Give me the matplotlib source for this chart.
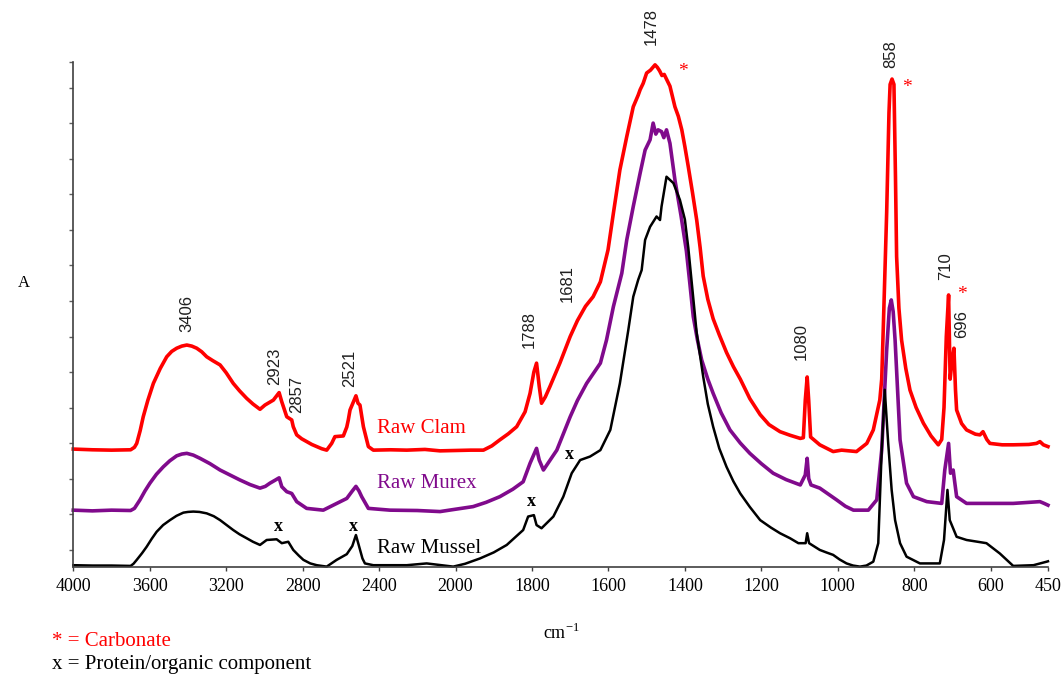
import numpy as np
import matplotlib.pyplot as plt

# FTIR absorbance spectra of raw shells (arbitrary offset units)
clam_wn = [4000, 3900, 3800, 3700, 3680, 3668, 3650, 3634, 3610, 3581, 3545, 3511, 3485,
           3459, 3432, 3406, 3380, 3354, 3328, 3302, 3270, 3232, 3200, 3163, 3130, 3093,
           3060, 3023, 2997, 2953, 2923, 2909, 2883, 2857, 2849, 2831, 2805, 2779, 2752,
           2726, 2700, 2674, 2648, 2631, 2587, 2569, 2561, 2552, 2521, 2510, 2500, 2482,
           2456, 2430, 2340, 2255, 2160, 2081, 2000, 1960, 1927, 1905, 1884, 1862, 1840,
           1818, 1805, 1795, 1788, 1781, 1775, 1765, 1753, 1727, 1700, 1681, 1660, 1640,
           1621, 1601, 1587, 1570, 1552, 1535, 1522, 1517, 1509, 1500, 1490, 1478, 1472,
           1466, 1460, 1454, 1448, 1439, 1426, 1417, 1408, 1400, 1391, 1380, 1369, 1360,
           1352, 1340, 1326, 1310, 1291, 1273, 1255, 1230, 1203, 1180, 1151, 1125, 1098,
           1090, 1085, 1080, 1076, 1071, 1047, 1012, 990, 951, 924, 907, 890, 885, 881,
           872, 866, 863, 858, 853, 849, 846, 840, 833, 822, 811, 795, 776, 756, 737, 728,
           722, 716, 710, 706, 701, 696, 692, 689, 676, 663, 640, 628, 620, 610, 602, 570,
           541, 500, 480, 471, 462, 450]
clam_a = [3.33, 3.31, 3.30, 3.31, 3.38, 3.49, 3.85, 4.24, 4.70, 5.18, 5.60, 5.93, 6.08,
          6.17, 6.23, 6.26, 6.23, 6.17, 6.07, 5.93, 5.82, 5.70, 5.48, 5.18, 4.97, 4.76,
          4.60, 4.45, 4.57, 4.71, 4.92, 4.66, 4.24, 4.15, 3.96, 3.73, 3.62, 3.54, 3.46,
          3.40, 3.34, 3.30, 3.49, 3.68, 3.70, 3.95, 4.15, 4.43, 4.83, 4.62, 4.57, 3.96,
          3.40, 3.30, 3.31, 3.30, 3.32, 3.28, 3.29, 3.30, 3.30, 3.42, 3.59, 3.76, 3.96,
          4.38, 4.90, 5.50, 5.75, 5.10, 4.62, 4.80, 5.09, 5.75, 6.50, 6.95, 7.35, 7.62,
          8.04, 8.94, 9.97, 11.19, 12.13, 12.97, 13.30, 13.45, 13.63, 13.92, 14.00, 14.15,
          14.08, 13.98, 13.85, 13.88, 13.75, 13.55, 12.97, 12.70, 12.32, 11.85, 11.28,
          10.55, 9.78, 9.00, 8.20, 7.55, 7.00, 6.55, 6.05, 5.65, 5.30, 4.75, 4.30, 4.02,
          3.82, 3.72, 3.63, 3.65, 4.70, 5.36, 4.70, 3.67, 3.45, 3.26, 3.30, 3.26, 3.49,
          3.87, 4.71, 5.30, 6.70, 10.00, 12.80, 13.60, 13.75, 13.60, 11.00, 8.75, 7.30,
          6.40, 5.60, 4.99, 4.50, 4.06, 3.70, 3.45, 3.60, 4.50, 6.50, 7.67, 5.30, 5.80,
          6.17, 5.00, 4.43, 4.05, 3.87, 3.75, 3.73, 3.82, 3.60, 3.49, 3.45, 3.45, 3.46,
          3.49, 3.54, 3.45, 3.40]

murex_wn = [4000, 3900, 3800, 3700, 3680, 3651, 3625, 3599, 3565, 3529, 3495, 3459, 3432,
            3406, 3372, 3337, 3285, 3232, 3180, 3128, 3075, 3023, 2995, 2971, 2945, 2923,
            2909, 2883, 2857, 2831, 2779, 2692, 2640, 2569, 2540, 2521, 2505, 2491, 2456,
            2343, 2200, 2081, 2020, 1954, 1920, 1884, 1850, 1823, 1805, 1788, 1781, 1770,
            1735, 1700, 1681, 1657, 1621, 1605, 1587, 1565, 1552, 1535, 1517, 1504, 1491,
            1483, 1476, 1470, 1461, 1455, 1448, 1439, 1426, 1410, 1396, 1387, 1378, 1367,
            1356, 1340, 1326, 1305, 1282, 1255, 1230, 1200, 1169, 1135, 1098, 1085, 1080,
            1076, 1070, 1047, 1003, 980, 959, 920, 898, 885, 872, 865, 860, 855, 850, 837,
            820, 802, 767, 728, 720, 710, 705, 698, 694, 689, 663, 600, 541, 471, 460, 450]
murex_a = [1.61, 1.59, 1.61, 1.60, 1.66, 1.90, 2.15, 2.37, 2.62, 2.83, 3.00, 3.14, 3.19,
           3.21, 3.16, 3.07, 2.92, 2.74, 2.60, 2.46, 2.33, 2.23, 2.28, 2.37, 2.45, 2.52,
           2.27, 2.13, 2.08, 1.85, 1.66, 1.61, 1.75, 1.94, 2.15, 2.28, 2.15, 1.99, 1.66,
           1.61, 1.60, 1.57, 1.62, 1.71, 1.83, 1.99, 2.20, 2.41, 2.93, 3.35, 3.02, 2.74,
           3.30, 4.24, 4.70, 5.18, 5.75, 6.40, 7.34, 8.28, 9.22, 10.16, 11.10, 11.75,
           12.04, 12.51, 12.20, 12.32, 12.27, 12.10, 12.32, 11.94, 10.91, 9.90, 8.91, 8.00,
           7.06, 6.40, 5.84, 5.30, 4.90, 4.35, 3.87, 3.50, 3.21, 2.92, 2.65, 2.47, 2.32,
           2.60, 3.07, 2.50, 2.32, 2.23, 1.90, 1.72, 1.61, 1.61, 1.90, 3.30, 6.12, 7.30,
           7.53, 7.20, 6.40, 3.59, 2.37, 1.99, 1.85, 1.80, 2.74, 3.49, 2.65, 2.74, 2.40,
           1.99, 1.80, 1.80, 1.80, 1.85, 1.80, 1.75]

mussel_wn = [4000, 3900, 3800, 3700, 3685, 3668, 3640, 3616, 3590, 3564, 3530, 3494, 3460,
             3424, 3400, 3372, 3340, 3302, 3265, 3232, 3200, 3163, 3130, 3093, 3060, 3023,
             2988, 2936, 2909, 2875, 2849, 2820, 2796, 2760, 2726, 2674, 2622, 2569, 2540,
             2521, 2505, 2487, 2474, 2430, 2255, 2151, 2012, 1975, 1936, 1900, 1866, 1823,
             1810, 1795, 1788, 1775, 1744, 1718, 1696, 1674, 1648, 1621, 1595, 1570, 1548,
             1535, 1522, 1513, 1504, 1491, 1474, 1465, 1461, 1448, 1430, 1413, 1400, 1391,
             1380, 1369, 1360, 1352, 1340, 1326, 1310, 1291, 1273, 1255, 1230, 1203, 1175,
             1151, 1125, 1103, 1084, 1080, 1075, 1047, 1030, 1012, 995, 977, 960, 942, 925,
             907, 894, 885, 877, 868, 859, 850, 837, 820, 785, 733, 722, 713, 707, 689, 663,
             611, 576, 541, 488, 453, 450]
mussel_a = [0.06, 0.05, 0.05, 0.04, 0.10, 0.21, 0.40, 0.58, 0.80, 1.00, 1.19, 1.33, 1.45,
            1.54, 1.56, 1.57, 1.56, 1.52, 1.44, 1.33, 1.20, 1.05, 0.93, 0.82, 0.72, 0.63,
            0.77, 0.79, 0.68, 0.72, 0.49, 0.33, 0.21, 0.11, 0.06, 0.02, 0.21, 0.37, 0.60,
            0.91, 0.60, 0.25, 0.11, 0.06, 0.06, 0.11, 0.02, 0.10, 0.25, 0.42, 0.63, 1.05,
            1.43, 1.47, 1.19, 1.10, 1.43, 1.99, 2.65, 3.02, 3.12, 3.30, 3.87, 5.18, 6.68,
            7.62, 8.10, 8.37, 9.22, 9.59, 9.88, 9.78, 10.16, 11.00, 10.82, 10.35, 9.80,
            9.00, 7.80, 6.59, 5.95, 5.37, 4.60, 3.96, 3.35, 2.83, 2.42, 2.08, 1.70, 1.33,
            1.12, 0.96, 0.82, 0.68, 0.68, 0.96, 0.68, 0.49, 0.42, 0.35, 0.22, 0.11, 0.05,
            0.02, 0.05, 0.16, 0.68, 3.30, 5.00, 3.49, 2.18, 1.33, 0.68, 0.30, 0.11, 0.11,
            0.77, 2.18, 1.33, 0.86, 0.77, 0.68, 0.39, 0.04, 0.06, 0.16, 0.17]

xticks = [4000, 3600, 3200, 2800, 2400, 2000, 1800, 1600, 1400, 1200, 1000, 800, 600, 450]

# band assignments written above the clam trace: (label, x, y of text bottom)
band_labels = [("3406", 3405, 6.63), ("2923", 2944, 5.13), ("2857", 2832, 4.35),
               ("2521", 2552, 5.08), ("1788", 1808, 6.18), ("1681", 1708, 7.47),
               ("1478", 1489, 14.72), ("1080", 1096, 5.84), ("858", 861, 14.07),
               ("710", 717, 8.09), ("696", 675, 6.46)]
carbonate_marks = [(1406, 13.95), (820, 13.5), (674, 7.68)]
organic_marks = [(2928, 1.16), (2535, 1.16), (1801, 1.85), (1702, 3.19)]


# spectrometer style axis: 400 cm-1 steps above 2000, 200 cm-1 steps below
def fwd(w):
    w = np.asarray(w, dtype=float)
    return np.where(w >= 2000, (w - 2000) / 400.0, (w - 2000) / 200.0)


def inv(p):
    p = np.asarray(p, dtype=float)
    return np.where(p >= 0, 2000 + 400.0 * p, 2000 + 200.0 * p)


plt.rcParams['font.family'] = 'Liberation Serif'

fig = plt.figure(figsize=(10.62, 6.77), dpi=100)
ax = fig.add_axes([0.069, 0.162, 0.9178, 0.7464])
ax.set_xscale('function', functions=(fwd, inv))
ax.set_xlim(4000, 450)
ax.set_ylim(0, 14.23)

ax.plot(clam_wn, clam_a, color='#ff0000', lw=2.6, clip_on=False, solid_joinstyle='round')
ax.plot(murex_wn, murex_a, color='#800a8c', lw=2.6, clip_on=False, solid_joinstyle='round')
ax.plot(mussel_wn, mussel_a, color='black', lw=1.8, clip_on=False, solid_joinstyle='round')

for s in ['top', 'right']:
    ax.spines[s].set_visible(False)
for s in ['left', 'bottom']:
    ax.spines[s].set_color('#404040')
    ax.spines[s].set_linewidth(1.2)

ax.set_xticks(xticks)
ax.set_xticklabels([str(t) for t in xticks])
ax.tick_params(axis='x', direction='out', length=3, width=1, color='#404040',
               pad=5, labelsize=13)
ax.set_yticks(list(np.arange(0.5, 14, 1.0)) + [14.23])
ax.tick_params(axis='y', direction='out', length=3, width=1, color='#606060',
               labelleft=False)
ax.minorticks_off()

for lab, x, y in band_labels:
    ax.text(x, y, lab, rotation=90, ha='center', va='bottom', fontsize=12,
            family='Liberation Sans', color='#202020', clip_on=False)
for x, y in carbonate_marks:
    ax.text(x, y, '*', ha='center', va='center', fontsize=14, color='#ff0000')
for x, y in organic_marks:
    ax.text(x, y, 'x', ha='center', va='center', fontsize=13, fontweight='bold')

ax.text(2411, 3.92, 'Raw Clam', color='#ff0000', fontsize=15, va='center')
ax.text(2411, 2.35, 'Raw Murex', color='#800a8c', fontsize=15, va='center')
ax.text(2411, 0.54, 'Raw Mussel', color='black', fontsize=15, va='center')

fig.text(0.017, 0.582, 'A', fontsize=12, ha='left', va='center')
fig.text(0.529, 0.065, r'cm$^{\mathregular{-1}}$', fontsize=13, ha='center', va='center')
fig.text(0.049, 0.053, '* = Carbonate', fontsize=15, color='#ff0000', ha='left', va='center')
fig.text(0.049, 0.019, 'x = Protein/organic component', fontsize=15, ha='left', va='center')

fig.savefig('out.png', dpi=100)
